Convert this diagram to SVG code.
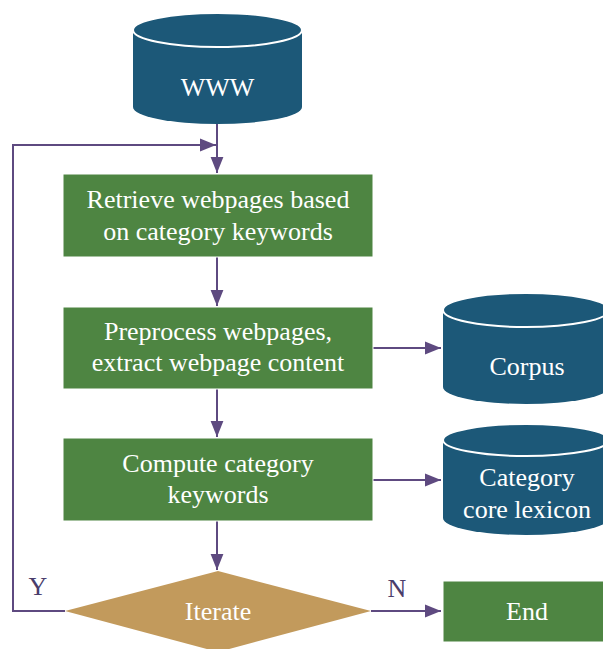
<svg xmlns="http://www.w3.org/2000/svg" width="603" height="649" viewBox="0 0 603 649">
<defs>
<style>
.cyl{fill:#1c5878;}
.cylTop{fill:#1c5878;stroke:#ffffff;stroke-width:2;}
.box{fill:#4e8542;stroke:#ffffff;stroke-width:1;}
.dia{fill:#c29a5c;}
.t{font-size:26px;fill:#ffffff;text-anchor:middle;}
.lbl{font-size:26px;fill:#4a3d6b;text-anchor:middle;}
.ln{fill:none;stroke:#5e4a80;stroke-width:2;}
</style>
<marker id="ahb" viewBox="0 0 10 10" refX="10" refY="5" markerWidth="16" markerHeight="16" markerUnits="userSpaceOnUse" orient="auto">
<path d="M0,1 L10,5 L0,9 z" fill="#5e4a80"/>
</marker>
</defs>
<rect width="603" height="649" fill="#ffffff"/>
<g font-family="Liberation Serif, Times New Roman, serif">
<g id="connectors">
<line class="ln" x1="217" y1="124" x2="217" y2="173" marker-end="url(#ahb)"/>
<line class="ln" x1="217" y1="257" x2="217" y2="306" marker-end="url(#ahb)"/>
<line class="ln" x1="217" y1="389" x2="217" y2="437" marker-end="url(#ahb)"/>
<line class="ln" x1="217" y1="521" x2="217" y2="570" marker-end="url(#ahb)"/>
<line class="ln" x1="373" y1="348" x2="441" y2="348" marker-end="url(#ahb)"/>
<line class="ln" x1="373" y1="480" x2="441" y2="480" marker-end="url(#ahb)"/>
<line class="ln" x1="371" y1="611" x2="441" y2="611" marker-end="url(#ahb)"/>
<polyline class="ln" points="65,611 13,611 13,145 216,145" marker-end="url(#ahb)"/>
<text class="lbl" x="38" y="595">Y</text>
<text class="lbl" x="397" y="597">N</text>
</g>
<g id="www">
<path class="cyl" d="M133,30 L133,107 A84.5,17 0 0 0 302,107 L302,30 Z"/>
<ellipse class="cylTop" cx="217.5" cy="30" rx="84.5" ry="17"/>
<text class="t" x="217.5" y="96">WWW</text>
</g>
<g id="retrieve">
<rect class="box" x="63" y="174" width="310" height="83"/>
<text class="t" x="218" y="208">Retrieve webpages based</text>
<text class="t" x="218" y="240">on category keywords</text>
</g>
<g id="preprocess">
<rect class="box" x="63" y="307" width="310" height="82"/>
<text class="t" x="218" y="340">Preprocess webpages,</text>
<text class="t" x="218" y="371">extract webpage content</text>
</g>
<g id="compute">
<rect class="box" x="63" y="438" width="310" height="83"/>
<text class="t" x="218" y="472">Compute category</text>
<text class="t" x="218" y="503">keywords</text>
</g>
<g id="corpus">
<path class="cyl" d="M443,310 L443,387 A83,17 0 0 0 609,387 L609,310 Z"/>
<ellipse class="cylTop" cx="526" cy="310" rx="83" ry="17"/>
<text class="t" x="527" y="375">Corpus</text>
</g>
<g id="lexicon">
<path class="cyl" d="M443,440 L443,518 A83,17 0 0 0 609,518 L609,440 Z"/>
<ellipse class="cylTop" cx="526" cy="440" rx="83" ry="16"/>
<text class="t" x="527" y="486">Category</text>
<text class="t" x="527" y="518">core lexicon</text>
</g>
<g id="iterate">
<polygon class="dia" points="218,571 371,611 218,652 65,611"/>
<text class="t" x="218" y="620">Iterate</text>
</g>
<g id="end">
<rect class="box" x="443" y="581" width="162" height="61"/>
<text class="t" x="527" y="620">End</text>
</g>
</g>
</svg>
